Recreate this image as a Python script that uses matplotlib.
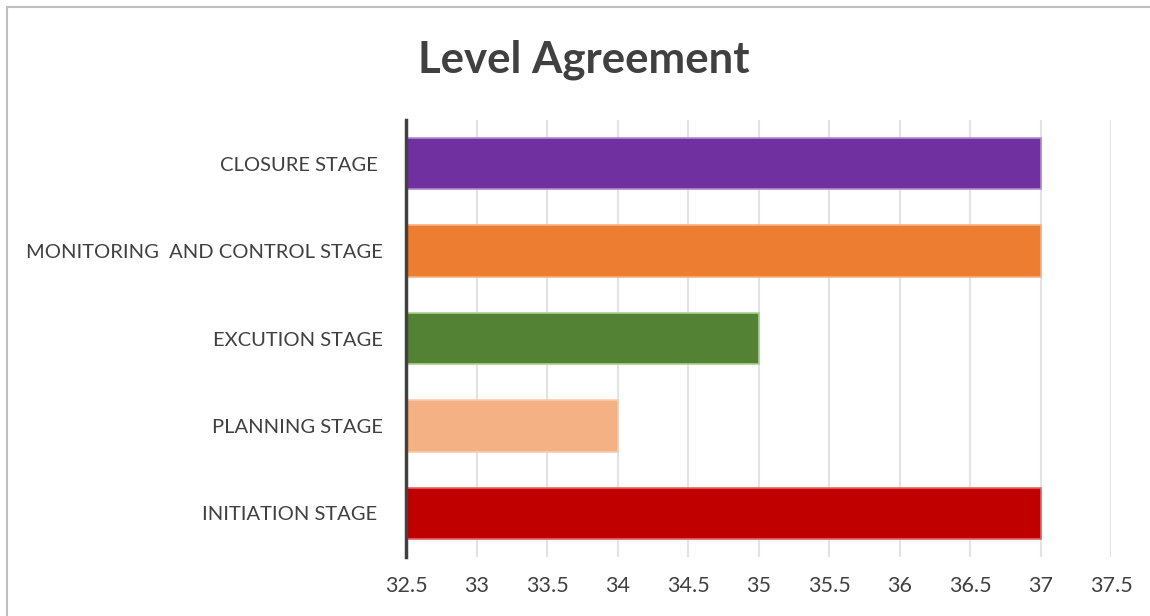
import matplotlib.pyplot as plt
from matplotlib.patches import Rectangle

# Data
stages = ['INITIATION STAGE ', 'PLANNING STAGE', 'EXCUTION STAGE',
          'MONITORING  AND CONTROL STAGE', 'CLOSURE STAGE ']
values = [37, 34, 35, 37, 37]
colors = ['#C00000', '#F4B183', '#548235', '#ED7D31', '#7030A0']
edges = ['#E06666', '#F8CBAD', '#A9D18E', '#F4B183', '#B08ACF']
xticks = [32.5, 33, 33.5, 34, 34.5, 35, 35.5, 36, 36.5, 37, 37.5]

plt.rcParams['font.family'] = ['Lato', 'DejaVu Sans']
txt = '#404040'

fig = plt.figure(figsize=(11.5, 6.16), dpi=100)
ax = fig.add_axes([406 / 1150, 1 - 557 / 616, 705 / 1150, 437 / 616])

base = 32.5
ypos = list(range(len(stages)))
widths = [v - base for v in values]
ax.barh(ypos, widths, left=base, height=0.59, color=colors,
        edgecolor=edges, linewidth=1.2, zorder=3)

ax.set_xlim(32.5, 37.5)
ax.set_ylim(-0.5, 4.5)
ax.set_xticks(xticks)
ax.set_xticklabels(['%g' % t for t in xticks], fontsize=15.5, color=txt)
ax.set_yticks(ypos)
ax.set_yticklabels(stages, fontsize=14.5, color=txt)
ax.tick_params(axis='both', length=0)
ax.tick_params(axis='x', pad=14)
ax.tick_params(axis='y', pad=17)
ax.xaxis.grid(True, color='#E3E3E3', linewidth=1.5, zorder=0)
ax.set_axisbelow(True)
for s in ['top', 'right', 'bottom']:
    ax.spines[s].set_visible(False)
ax.spines['left'].set_color('#404040')
ax.spines['left'].set_linewidth(2.5)
ax.spines['left'].set_zorder(4)

fig.text(584 / 1150, 1 - 60 / 616, 'Level Agreement', ha='center', va='center',
         fontsize=31.5, fontweight='bold', color=txt)

# chart border
fig.patches.append(Rectangle((7 / 1150, -0.1), 1.2, 1 - 7 / 616 + 0.1,
                             transform=fig.transFigure, fill=False,
                             edgecolor='#BFBFBF', linewidth=1.5))

fig.savefig('out.png', dpi=100)
